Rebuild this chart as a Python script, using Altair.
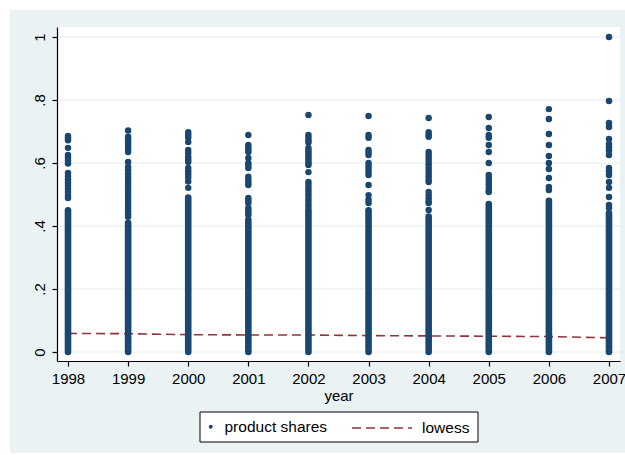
import altair as alt
import pandas as pd

NAVY = "#1a476f"
MAROON = "#90353b"
FRAME = "#eaf2f3"
FONT = "Liberation Sans"

years = [1998, 1999, 2000, 2001, 2002, 2003, 2004, 2005, 2006, 2007]

# upper end of the solid run of observations in each year (they start at 0)
dense_top = [0.45, 0.41, 0.49, 0.42, 0.45, 0.45, 0.43, 0.47, 0.48, 0.44]

# separately visible product shares above the solid run
shares_1998 = [0.686, 0.679, 0.672, 0.648, 0.625, 0.617, 0.608, 0.598, 0.568, 0.558,
               0.548, 0.538, 0.528, 0.518, 0.508, 0.498, 0.489]
shares_1999 = [0.703, 0.683, 0.675, 0.667, 0.659, 0.651, 0.643, 0.635, 0.603, 0.587,
               0.577, 0.567, 0.557, 0.547, 0.537, 0.527, 0.517, 0.507, 0.497, 0.487,
               0.477, 0.467, 0.457, 0.447, 0.437, 0.429]
shares_2000 = [0.698, 0.690, 0.681, 0.667, 0.641, 0.632, 0.620, 0.610, 0.603, 0.584,
               0.574, 0.564, 0.554, 0.541, 0.521]
shares_2001 = [0.689, 0.657, 0.649, 0.641, 0.635, 0.616, 0.600, 0.592, 0.584, 0.556,
               0.546, 0.537, 0.530, 0.489, 0.481, 0.473, 0.457, 0.449, 0.441, 0.435]
shares_2002 = [0.752, 0.689, 0.680, 0.672, 0.665, 0.648, 0.640, 0.632, 0.624, 0.616,
               0.608, 0.600, 0.594, 0.571, 0.540, 0.530, 0.520, 0.510, 0.500, 0.490,
               0.480, 0.470, 0.460]
shares_2003 = [0.749, 0.689, 0.680, 0.641, 0.633, 0.625, 0.600, 0.591, 0.582, 0.572,
               0.562, 0.530, 0.498, 0.483, 0.473]
shares_2004 = [0.743, 0.698, 0.690, 0.683, 0.635, 0.625, 0.616, 0.606, 0.596, 0.586,
               0.576, 0.566, 0.556, 0.546, 0.540, 0.508, 0.498, 0.488, 0.478, 0.473,
               0.451]
shares_2005 = [0.746, 0.711, 0.689, 0.680, 0.657, 0.635, 0.600, 0.562, 0.552, 0.542,
               0.532, 0.522, 0.512, 0.508]
shares_2006 = [0.771, 0.740, 0.692, 0.657, 0.622, 0.600, 0.581, 0.552, 0.524, 0.514]
shares_2007 = [1.000, 0.797, 0.727, 0.714, 0.676, 0.660, 0.650, 0.640, 0.625, 0.584,
               0.574, 0.562, 0.540, 0.521, 0.492, 0.467, 0.457]

# lowess smoother of share on year
lowess_fit = [0.059, 0.058, 0.055, 0.054, 0.054, 0.052, 0.051, 0.050, 0.049, 0.045]

y_ticks = [0, 0.2, 0.4, 0.6, 0.8, 1]

W, H = 563, 334

per_year = [shares_1998, shares_1999, shares_2000, shares_2001, shares_2002,
            shares_2003, shares_2004, shares_2005, shares_2006, shares_2007]
points = pd.DataFrame(
    [{"year": y, "share": s, "series": "product shares"}
     for y, vals in zip(years, per_year) for s in vals]
)
columns = pd.DataFrame({"year": years, "low": [0.0] * len(years), "top": dense_top})
smooth = pd.DataFrame({"year": years, "fit": lowess_fit, "line": ["lowess"] * len(years)})
grid = pd.DataFrame({"tick": y_ticks})
one = alt.Data(values=[{"k": 1}])

x_scale = alt.Scale(domain=[1997.817, 2007.183], nice=False, zero=False)
y_scale = alt.Scale(domain=[-0.0286, 1.0317], nice=False, zero=False)

x_axis = alt.Axis(values=years, format="d", title="year", grid=False, zindex=2,
                  labelFlush=False, labelOverlap=False, labelPadding=5,
                  titlePadding=2, titleFontWeight="normal", titleFontSize=15)
y_axis = alt.Axis(values=y_ticks, title=None, grid=False, zindex=2, labelAngle=270,
                  labelAlign="center", labelBaseline="bottom", labelPadding=5,
                  labelExpr="datum.value > 0 && datum.value < 1 ? '.' + format(datum.value * 10, 'd') : format(datum.value, 'd')")


def X(field):
    return alt.X(f"{field}:Q", scale=x_scale, axis=x_axis, title="year")


def Y(field):
    return alt.Y(f"{field}:Q", scale=y_scale, axis=y_axis, title=None)


# graph region (light bluish gray) and white plot region
region = alt.Chart(one).mark_rect(fill=FRAME).encode(
    x=alt.value(-47), x2=alt.value(W + 5), y=alt.value(-17), y2=alt.value(H + 92)
)
plot_bg = alt.Chart(one).mark_rect(fill="white").encode(
    x=alt.value(0), x2=alt.value(W), y=alt.value(0), y2=alt.value(H)
)

gridlines = alt.Chart(grid).mark_rule(color="#e4eced", strokeWidth=1.2).encode(
    y=Y("tick"), x=alt.value(0), x2=alt.value(W)
)

lowess = alt.Chart(smooth).mark_line(color=MAROON, strokeWidth=1.6).encode(
    x=X("year"),
    y=Y("fit"),
    strokeDash=alt.StrokeDash(
        "line:N",
        scale=alt.Scale(domain=["lowess"], range=[[9, 5]]),
        legend=alt.Legend(
            title=None, orient="none", legendX=294, legendY=370, padding=0,
            symbolType="stroke", symbolSize=3600, symbolStrokeWidth=1.5,
            symbolStrokeColor=MAROON, labelOffset=9,
            labelFont=FONT, labelFontSize=15.5, labelColor="black",
        ),
    ),
)

solid = alt.Chart(columns).mark_rule(color=NAVY, strokeWidth=6.6, strokeCap="round").encode(
    x=X("year"), y=Y("low"), y2="top:Q"
)

scatter = alt.Chart(points).mark_circle(size=42, opacity=1).encode(
    x=X("year"),
    y=Y("share"),
    color=alt.Color(
        "series:N",
        scale=alt.Scale(domain=["product shares"], range=[NAVY]),
        legend=alt.Legend(
            title=None, orient="none", legendX=146, legendY=392, padding=0,
            symbolType="circle", symbolSize=16, symbolOpacity=1, labelOffset=6,
            labelFont=FONT, labelFontSize=15.5, labelColor="black",
        ),
    ),
)

legend_box = alt.Chart(one).mark_rect(fill="white", stroke="black", strokeWidth=1).encode(
    x=alt.value(143), x2=alt.value(421), y=alt.value(385), y2=alt.value(415)
)

chart = (
    alt.layer(region, plot_bg, gridlines, lowess, solid, scatter, legend_box)
    .properties(
        width=W, height=H,
        padding={"left": 57, "top": 27, "right": 5, "bottom": 94},
        autosize=alt.AutoSizeParams(type="none"),
        background="white",
    )
    .configure_view(stroke=None)
    .configure_axis(
        domainColor="black", domainWidth=1.2, tickColor="black",
        tickSize=5, tickWidth=1.2, labelColor="black", labelFont=FONT,
        labelFontSize=15, titleFont=FONT, titleColor="black",
    )
)

chart.save("out.html", embed_options={"renderer": "svg", "actions": False})
